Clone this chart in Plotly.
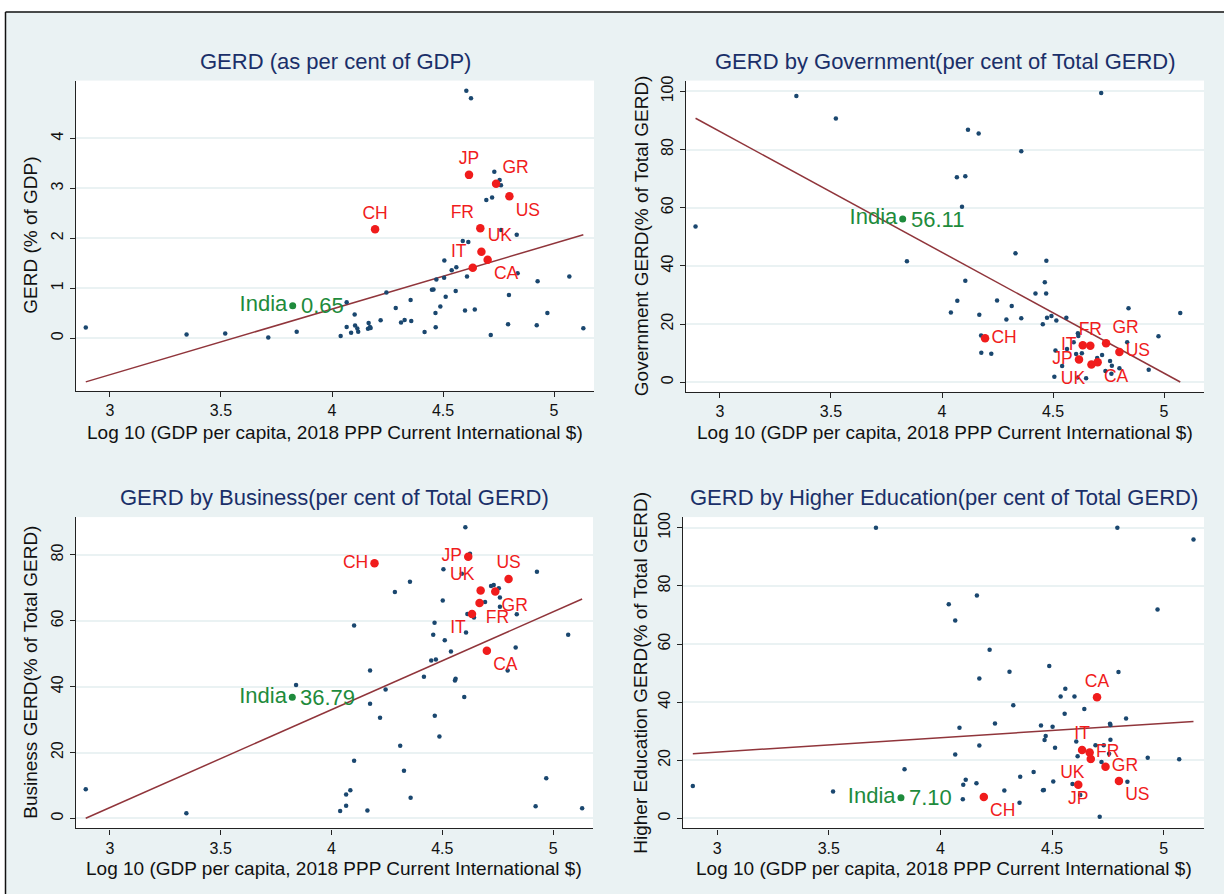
import plotly.graph_objects as go

W, H = 1224, 894

# ---------------- data ----------------
labels = ["CH", "JP", "IT", "FR", "UK", "CA", "GR", "US"]
lab_x = [4.194, 4.617, 4.634, 4.668, 4.673, 4.701, 4.739, 4.799]
india_x = 3.823
india_name = "India"
india_vals = [0.65, 56.11, 36.79, 7.10]

gdp_lab = [2.18, 3.27, 1.41, 2.20, 1.73, 1.57, 3.09, 2.84]
gov_lab = [15.1, 7.8, 12.7, 12.5, 6.1, 6.9, 13.4, 10.4]
bus_lab = [77.5, 79.5, 62.1, 65.4, 69.2, 50.9, 68.9, 72.7]
hed_lab = [7.4, 11.6, 23.6, 22.7, 20.5, 41.7, 17.8, 12.9]

gdp_x = [2.891, 3.345, 3.519, 3.713, 3.841, 4.039, 4.066, 4.066, 4.086, 4.102, 4.104, 4.114, 4.118,
         4.162, 4.165, 4.171, 4.174, 4.219, 4.245, 4.287, 4.311, 4.327, 4.354, 4.357, 4.417, 4.450,
         4.457, 4.466, 4.467, 4.470, 4.488, 4.505, 4.506, 4.512, 4.539, 4.557, 4.560, 4.589, 4.599,
         4.605, 4.608, 4.614, 4.626, 4.643, 4.695, 4.715, 4.721, 4.731, 4.755, 4.761, 4.761, 4.793,
         4.797, 4.832, 4.836, 4.922, 4.926, 4.970, 5.069, 5.132]
gdp_y = [0.213, 0.073, 0.093, 0.013, 0.126, 0.04, 0.717, 0.225, 0.106, 0.472, 0.252, 0.193, 0.126,
         0.185, 0.305, 0.225, 0.205, 0.359, 0.916, 0.604, 0.312, 0.365, 0.763, 0.345, 0.12, 0.97,
         0.976, 0.504, 0.219, 1.175, 0.631, 1.21, 1.554, 0.83, 1.36, 0.943, 1.42, 1.946, 0.551,
         4.954, 1.235, 1.926, 4.807, 0.571, 2.769, 0.06, 2.815, 3.333, 3.167, 3.061, 2.165, 0.279,
         0.863, 2.07, 1.30, 0.259, 1.14, 0.504, 1.235, 0.199]

gov_x = [2.890, 3.344, 3.522, 3.842, 4.040, 4.067, 4.069, 4.090, 4.105, 4.105, 4.117, 4.165, 4.168,
         4.176, 4.177, 4.222, 4.248, 4.290, 4.314, 4.331, 4.357, 4.357, 4.421, 4.454, 4.463, 4.469,
         4.470, 4.473, 4.493, 4.506, 4.511, 4.515, 4.541, 4.560, 4.563, 4.593, 4.604, 4.610, 4.612,
         4.614, 4.630, 4.649, 4.699, 4.717, 4.721, 4.736, 4.757, 4.763, 4.765, 4.799, 4.834, 4.840,
         4.931, 4.975, 5.073]
gov_y = [53.5, 98.4, 90.7, 41.6, 24.0, 70.5, 28.0, 60.3, 70.8, 34.9, 86.8, 85.5, 23.2,
         16.1, 10.1, 9.8, 28.1, 21.6, 26.2, 44.3, 79.4, 22.0, 30.5, 19.9, 34.4, 30.5,
         41.8, 22.2, 22.8, 1.9, 10.9, 21.2, 5.6, 22.2, 11.4, 13.7, 9.7, 1.6, 16.8,
         15.9, 10.0, 1.4, 8.3, 99.4, 9.4, 3.9, 7.3, 2.9, 5.7, 4.8, 13.7, 25.4,
         4.3, 15.8, 23.8]

bus_x = [2.891, 3.345, 3.840, 4.039, 4.066, 4.066, 4.085, 4.102, 4.102, 4.162, 4.174, 4.174, 4.219,
         4.244, 4.286, 4.310, 4.327, 4.354, 4.357, 4.417, 4.450, 4.459, 4.465, 4.466, 4.471, 4.487,
         4.502, 4.505, 4.511, 4.539, 4.557, 4.560, 4.588, 4.599, 4.604, 4.607, 4.613, 4.625, 4.643,
         4.693, 4.720, 4.732, 4.755, 4.760, 4.760, 4.795, 4.831, 4.836, 4.921, 4.927, 4.969, 5.068,
         5.131]
bus_y = [8.9, 1.6, 40.5, 2.3, 3.9, 7.3, 8.6, 17.5, 58.6, 2.4, 44.9, 34.8, 30.6,
         39.2, 68.8, 22.1, 14.5, 71.9, 6.3, 43.0, 48.0, 55.8, 59.4, 31.2, 48.3, 24.9,
         66.2, 75.7, 54.1, 50.7, 41.9, 42.4, 74.3, 36.9, 88.4, 56.5, 62.1, 80.4, 61.0,
         65.7, 70.6, 70.9, 69.9, 67.1, 64.3, 44.9, 51.9, 62.0, 3.7, 74.9, 12.2, 55.8,
         3.1]

hed_x = [2.891, 3.519, 3.711, 3.839, 4.037, 4.066, 4.066, 4.085, 4.100, 4.102, 4.113, 4.161, 4.163,
         4.174, 4.174, 4.220, 4.244, 4.286, 4.309, 4.326, 4.354, 4.357, 4.417, 4.450, 4.459, 4.463,
         4.466, 4.471, 4.487, 4.502, 4.505, 4.513, 4.538, 4.556, 4.559, 4.591, 4.600, 4.608, 4.614,
         4.626, 4.644, 4.694, 4.713, 4.721, 4.731, 4.755, 4.759, 4.761, 4.761, 4.792, 4.797, 4.831,
         4.837, 4.928, 4.972, 5.069, 5.133]
hed_y = [11.2, 9.3, 100.0, 16.9, 73.7, 68.1, 22.0, 31.2, 6.6, 11.6, 13.3, 12.1, 76.7,
         48.2, 25.1, 58.1, 32.7, 9.6, 50.5, 39.0, 5.4, 14.4, 16.0, 32.0, 9.7, 9.8,
         27.0, 28.4, 52.5, 31.6, 12.7, 24.3, 42.0, 36.0, 44.6, 11.9, 42.0, 26.5, 21.4,
         8.1, 37.7, 25.2, 0.6, 19.4, 25.2, 22.3, 32.6, 32.2, 27.1, 100.0, 50.4, 34.4,
         12.6, 20.9, 71.9, 20.4, 96.0]

# linear fit: (intercept, slope)
fit_gdp = (-4.678, 1.315)
fit_gov = (210.8, -41.54)
fit_bus = (-85.8, 29.71)
fit_hed = (8.0, 4.95)

titles = ["GERD (as per cent of GDP)", "GERD by Government(per cent of Total GERD)",
          "GERD by Business(per cent of Total GERD)", "GERD by Higher Education(per cent of Total GERD)"]
ytitles = ["GERD (% of GDP)", "Government GERD(% of Total GERD)",
           "Business GERD(% of Total GERD)", "Higher Education GERD(% of Total GERD)"]
xtitle = "Log 10 (GDP per capita, 2018 PPP Current International $)"
x_ticks = [3, 3.5, 4, 4.5, 5]
y_ticks = [[0, 1, 2, 3, 4], [0, 20, 40, 60, 80, 100], [0, 20, 40, 60, 80], [0, 20, 40, 60, 80, 100]]

# ---------------- style ----------------
FONT = "Liberation Sans, Arial, Helvetica, sans-serif"
BG = "#EAF2F3"
NAVY = "#1a476f"
MAROON = "#90353b"
RED = "#f01c1c"
GREEN = "#1e8b3c"
TITLE_C = "#1a2f69"

# plot areas in pixels: (left, right, top, bottom)
areas = [(76, 594, 76, 388), (686, 1204, 76, 389), (76, 593, 515, 828), (683, 1204, 515, 828)]
yranges = [[-1.056, 5.159], [-3.3, 103.7], [-3.0, 91.5], [-3.4, 103.7]]
xrange_ = [2.847, 5.18]
title_y = [57, 57, 495, 495]
xtitle_y = [430, 430, 868, 868]
ytitle_x = [31, 641, 31, 641]

lab_pos = [
    ["top center", "top center", "top left", "top left", "top right", "bottom right", "top right", "bottom right"],
    ["middle right", "middle left", "middle left", "top center", "bottom left", "bottom right", "top right", "middle right"],
    ["middle left", "middle left", "bottom left", "bottom right", "top left", "bottom right", "bottom right", "top center"],
    ["bottom right", "bottom center", "top center", "middle right", "bottom left", "top center", "middle right", "bottom right"],
]

panels = [
    (gdp_x, gdp_y, gdp_lab, fit_gdp),
    (gov_x, gov_y, gov_lab, fit_gov),
    (bus_x, bus_y, bus_lab, fit_bus),
    (hed_x, hed_y, hed_lab, fit_hed),
]

fig = go.Figure()
annotations = []
layout_axes = {}

for i, (ox, oy, ly, (a, b)) in enumerate(panels):
    sfx = "" if i == 0 else str(i + 1)
    xa, ya = "x" + sfx, "y" + sfx
    iv = india_vals[i]

    all_x = list(ox) + list(lab_x) + [india_x]
    xmin, xmax = min(all_x), max(all_x)
    fig.add_trace(go.Scatter(x=[xmin, xmax], y=[a + b * xmin, a + b * xmax], mode="lines",
                             line=dict(color=MAROON, width=1.5), xaxis=xa, yaxis=ya,
                             hoverinfo="skip", showlegend=False))
    fig.add_trace(go.Scatter(x=ox, y=oy, mode="markers",
                             marker=dict(color=NAVY, size=4.5, line=dict(width=0)),
                             xaxis=xa, yaxis=ya, showlegend=False))
    fig.add_trace(go.Scatter(x=lab_x, y=ly, mode="markers+text", text=labels,
                             textposition=lab_pos[i],
                             textfont=dict(color=RED, size=17.5, family=FONT),
                             marker=dict(color=RED, size=8.5, line=dict(width=0)),
                             xaxis=xa, yaxis=ya, showlegend=False))
    fig.add_trace(go.Scatter(x=[india_x], y=[iv], mode="markers+text", text=[india_name],
                             textposition="middle left",
                             textfont=dict(color=GREEN, size=22, family=FONT),
                             marker=dict(color=GREEN, size=7, line=dict(width=0)),
                             xaxis=xa, yaxis=ya, showlegend=False))
    annotations.append(dict(text=f"{iv:.2f}", x=india_x, y=iv, xref=xa, yref=ya,
                            xanchor="left", yanchor="middle", xshift=6, showarrow=False,
                            font=dict(size=22, color=GREEN, family=FONT)))

    l, r, t, bt = areas[i]
    xd = [l / W, r / W]
    yd = [1 - bt / H, 1 - t / H]
    layout_axes["xaxis" + sfx] = dict(
        domain=xd, range=xrange_, anchor=ya, tickvals=x_ticks,
        ticktext=[f"{v:g}" for v in x_ticks], showgrid=False, zeroline=False,
        showline=True, linecolor="#222", linewidth=1.3, ticks="outside", ticklen=5,
        tickcolor="#222", tickwidth=1.2, tickfont=dict(size=16, color="#111", family=FONT),
        fixedrange=True)
    layout_axes["yaxis" + sfx] = dict(
        domain=yd, range=yranges[i], anchor=xa, tickvals=y_ticks[i],
        showgrid=True, gridcolor=BG, gridwidth=1.5, zeroline=False,
        showline=True, linecolor="#222", linewidth=1.3, ticks="outside", ticklen=5,
        tickcolor="#222", tickwidth=1.2, tickangle=-90,
        tickfont=dict(size=16, color="#111", family=FONT), fixedrange=True)

    cx = (l + r) / 2 / W
    annotations.append(dict(text=titles[i], x=cx, y=1 - title_y[i] / H, xref="paper", yref="paper",
                            xanchor="center", yanchor="middle", showarrow=False,
                            font=dict(size=22, color=TITLE_C, family=FONT)))
    annotations.append(dict(text=xtitle, x=cx, y=1 - xtitle_y[i] / H, xref="paper", yref="paper",
                            xanchor="center", yanchor="middle", showarrow=False,
                            font=dict(size=19, color="#111", family=FONT)))
    annotations.append(dict(text=ytitles[i], x=ytitle_x[i] / W, y=1 - (t + bt) / 2 / H,
                            xref="paper", yref="paper", xanchor="center", yanchor="middle",
                            textangle=-90, showarrow=False,
                            font=dict(size=19, color="#111", family=FONT)))

shapes = [
    dict(type="rect", xref="paper", yref="paper", x0=0, x1=1, y0=1 - 6.5 / H, y1=1.01,
         fillcolor="white", line=dict(width=0), layer="above"),
    dict(type="rect", xref="paper", yref="paper", x0=-0.01, x1=5.5 / W, y0=-0.01, y1=1.01,
         fillcolor="white", line=dict(width=0), layer="above"),
    dict(type="line", xref="paper", yref="paper", x0=5.5 / W, x1=1.01, y0=1 - 7 / H, y1=1 - 7 / H,
         line=dict(color="#111", width=1.5), layer="above"),
    dict(type="line", xref="paper", yref="paper", x0=5.5 / W, x1=5.5 / W, y0=-0.01, y1=1 - 7 / H,
         line=dict(color="#111", width=1.5), layer="above"),
]

fig.update_layout(
    width=W, height=H, margin=dict(l=0, r=0, t=0, b=0),
    paper_bgcolor=BG, plot_bgcolor="white",
    font=dict(family=FONT, color="#111"),
    showlegend=False, annotations=annotations, shapes=shapes,
    **layout_axes,
)

fig.write_html("out.html", config={"displayModeBar": False},
               post_script="document.body.style.margin='0';document.body.style.overflow='hidden';")
